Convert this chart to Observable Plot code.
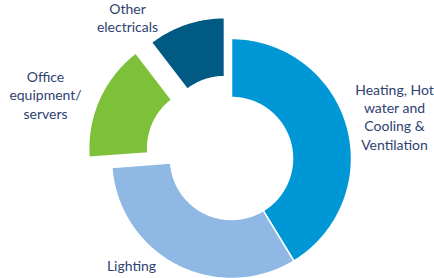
<!DOCTYPE html>
<html>
<head>
<meta charset="utf-8">
<script src="https://cdn.jsdelivr.net/npm/d3@7"></script>
<script src="https://cdn.jsdelivr.net/npm/@observablehq/plot@0.6"></script>
<style>
  html, body { margin: 0; padding: 0; background: #fff; }
  #chart svg { display: block; }
</style>
</head>
<body>
<div id="chart"></div>
<script>
// ---- data ----
const categories = ["Heating, Hot\nwater and\nCooling &\nVentilation", "Lighting", "Office\nequipment/\nservers", "Other\nelectricals"];
const values = [41.3, 32.5, 15.8, 10.4];
const colors = ["#0097d7", "#8fb9e4", "#7dc13a", "#005a84"];

// ---- layout (pixels) ----
const W = 434, H = 278;
const cx = 231, cy = 158, R = 120, r = 61;
const explodePx = [0, 0, 25, 22];
const labelPx = [[394, 116], [131, 265], [45, 94], [127, 17]];

const pie = d3.pie().sort(null).value(d => d)(values);

const pts = [];
pie.forEach((p, i) => {
  const mid = (p.startAngle + p.endAngle) / 2;
  const ox = explodePx[i] / R * Math.sin(mid);
  const oy = explodePx[i] / R * Math.cos(mid);
  const n = Math.max(8, Math.ceil((p.endAngle - p.startAngle) * 60));
  for (let k = 0; k <= n; k++) {
    const a = p.startAngle + (p.endAngle - p.startAngle) * k / n;
    pts.push({cat: categories[i], x: ox + Math.sin(a), y: oy + Math.cos(a)});
  }
  for (let k = n; k >= 0; k--) {
    const a = p.startAngle + (p.endAngle - p.startAngle) * k / n;
    pts.push({cat: categories[i], x: ox + (r / R) * Math.sin(a), y: oy + (r / R) * Math.cos(a)});
  }
});

const labels = categories.map((c, i) => ({
  text: c,
  x: (labelPx[i][0] - cx) / R,
  y: (cy - labelPx[i][1]) / R
}));

const chart = Plot.plot({
  width: W,
  height: H,
  margin: 0,
  x: {domain: [-cx / R, (W - cx) / R], range: [0, W], axis: null},
  y: {domain: [(cy - H) / R, cy / R], range: [H, 0], axis: null},
  color: {domain: categories, range: colors},
  style: {fontFamily: "Lato, 'Open Sans', sans-serif", background: "#fff"},
  marks: [
    Plot.line(pts, {x: "x", y: "y", z: "cat", fill: "cat", stroke: "#fff", strokeWidth: 1.5, curve: "linear-closed"}),
    Plot.text(labels, {x: "x", y: "y", text: "text", fill: "#2e4270", fontSize: 14, lineHeight: 1.3, textAnchor: "middle"})
  ]
});
document.getElementById("chart").appendChild(chart);
</script>
</body>
</html>
